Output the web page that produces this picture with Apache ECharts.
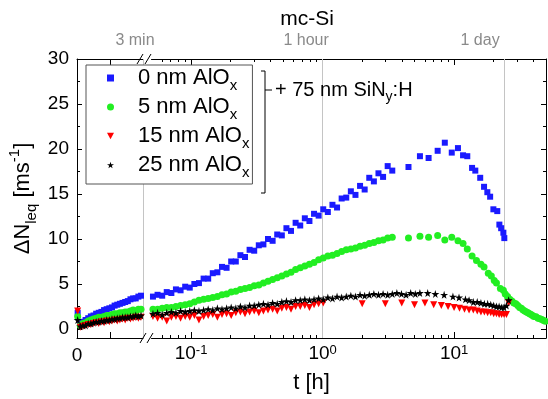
<!DOCTYPE html>
<html><head><meta charset="utf-8">
<script src="https://cdn.jsdelivr.net/npm/echarts@6/dist/echarts.min.js"></script>
<style>html,body{margin:0;padding:0;background:#fff}#c{width:548px;height:399px}</style>
</head><body><div id="c"></div>
<script>
// ---- data (t in hours, ΔN_leq in ms^-1) ----
const tLin = [0.0005,0.0025,0.0045,0.0065,0.0085,0.0105,0.0125,0.0145,0.0165,0.0185,0.0205,0.0225,0.0245,0.0265,0.0285,0.0305,0.0325,0.0345,0.0365,0.0385,0.0405,0.0425,0.0445,0.0465,0.0485];
const tLog = [0.0513,0.0556,0.0603,0.0653,0.0708,0.0767,0.0832,0.0902,0.0977,0.1059,0.1148,0.1245,0.1349,0.1462,0.1585,0.1718,0.1862,0.2018,0.2188,0.2371,0.2570,0.2786,0.3020,0.3273,0.3548,0.3846,0.4169,0.4519,0.4898,0.5309,0.5754,0.6237,0.6761,0.7328,0.7943,0.8610,0.9333,1.0116,1.0965,1.1885,1.2882,1.3964,1.5136,1.6406,1.7783,1.9275,2.0893,2.2646,2.4547,2.6607,2.8840,3.1261,3.3884,3.6728,3.9811,4.3152,4.6774,5.0699,5.4954];

const blueLin = [1.8,0.6,0.8,1.0,1.2,1.4,1.5,1.7,1.8,1.9,2.1,2.2,2.3,2.4,2.6,2.7,2.8,2.9,3.0,3.1,3.3,3.4,3.4,3.6,3.7];
const blueLog = [3.6,3.8,3.7,4.1,4.0,4.4,4.3,4.7,4.6,5.0,5.1,5.6,5.6,6.2,6.3,6.9,6.8,7.5,7.5,8.2,8.0,8.8,8.7,9.3,9.4,10.0,9.8,10.5,10.4,11.2,10.9,11.8,11.5,12.3,12.0,12.8,12.6,13.3,13.0,13.8,13.5,14.5,14.6,15.3,14.9,15.9,15.5,16.8,16.4,17.3,16.9,18.1,17.6];
const blueLateT = [4.5,5.5,6.4,7.5,8.5,9.6,10.7,11.7,12.6,13.7,14.5,15.8,16.9,17.9,18.8,19.9,21.3,22.1,22.8,23.7,24.1];
const blueLateV = [18.0,19.2,19.0,19.8,20.7,19.6,20.1,19.3,19.2,17.9,17.6,16.8,15.8,15.2,14.7,13.3,13.1,11.6,11.2,10.7,10.1];

const greenLin = [1.4,0.4,0.6,0.7,0.9,1.0,1.1,1.2,1.3,1.3,1.4,1.5,1.5,1.6,1.7,1.7,1.8,1.8,1.9,1.9,2.0,2.1,2.0,2.2,2.2];
const greenLog = [2.2,2.2,2.3,2.4,2.4,2.5,2.6,2.7,2.8,3.0,3.2,3.3,3.4,3.5,3.6,3.8,3.9,4.1,4.2,4.4,4.5,4.6,4.8,4.9,5.1,5.3,5.5,5.7,5.9,6.1,6.3,6.6,6.8,7.0,7.2,7.4,7.7,7.9,8.1,8.2,8.4,8.6,8.8,8.9,9.0,9.2,9.3,9.5,9.6,9.8,9.9,10.1,10.2];
const greenLateT = [4.5,5.5,6.4,7.5,8.5,9.6,10.7,11.7,12.6,13.7,14.8,16.0,16.9,18.2,19.2,20.2,21.0,22.5,23.7,24.5,25.5,26.5,27.5,28.5,29.5,30.5,31.5,32.5,33.5,34.5,35.5,36.5,37.5,38.5,39.5,40.5,42.0,43.5,45.0,46.5,48.0,49.5];
const greenLateV = [10.1,10.3,10.2,10.4,9.9,10.2,9.8,9.5,8.9,8.1,7.6,7.2,6.9,6.2,5.9,5.4,5.1,4.5,4.3,3.9,3.6,3.3,3.1,2.9,2.8,2.6,2.4,2.3,2.1,2.0,1.9,1.8,1.7,1.6,1.5,1.4,1.35,1.2,1.15,1.05,0.95,0.85];

const redLin = [2.0,0.2,0.3,0.4,0.5,0.5,0.6,0.7,0.6,0.8,0.7,0.9,0.8,0.9,1.0,0.9,1.0,1.1,1.0,1.2,1.1,1.2,1.3,1.2,1.3];
const redLog = [1.4,1.2,1.3,0.9,1.3,1.4,1.2,1.4,1.3,1.5,1.0,1.4,1.5,1.6,1.3,1.6,1.7,1.5,1.8,1.9,1.7,1.9,2.0,1.8,2.0,2.1,2.2,2.0,2.3,2.4,2.2,2.5,2.5,2.6,2.4,2.7,2.8,2.9];
const redLateT = [2,3,4,5,6,7,8,9,10,11,12,13,14,15,16,17,18,19,20,21,22,23,24,25,26];
const redLateV = [2.8,2.8,2.9,2.7,2.9,2.7,2.6,2.5,2.4,2.3,2.2,2.1,2.1,2.0,1.9,1.9,1.8,1.8,1.7,1.7,1.6,1.6,1.6,1.6,2.9];

const blackLin = [1.0,0.3,0.4,0.4,0.6,0.6,0.7,0.8,0.8,0.9,0.9,1.0,1.0,1.1,1.1,1.2,1.2,1.3,1.3,1.3,1.4,1.4,1.5,1.4,1.5];
const blackLog = [1.7,1.8,1.6,1.8,1.9,1.8,2.0,1.9,2.0,2.1,2.0,2.1,2.2,2.1,2.3,2.2,2.3,2.4,2.3,2.5,2.4,2.6,2.6,2.7,2.8,2.7,2.9,2.8,3.0,3.1,3.0,3.2,3.2,3.3,3.2,3.3,3.4,3.3,3.5,3.4,3.6,3.5,3.6,3.7,3.6,3.8,3.7,3.8,3.9,3.8,3.9,3.8,3.9,4.0,3.9,3.8,4.0,3.9,4.0];
const blackLateT = [6.3,7.2,8.4,9.8,10.9,12.2,13,14,15,16,17,18,19,20,21,22,23,24,25,26];
const blackLateV = [4.0,3.9,3.8,3.6,3.5,3.3,3.2,3.0,3.0,2.9,2.8,2.8,2.7,2.6,2.5,2.5,2.4,2.4,2.6,3.2];

const seriesNames = ['0 nm AlOx','5 nm AlOx','15 nm AlOx','25 nm AlOx'];
const yTicks = [0,5,10,15,20,25,30];
const yMinor = [2.5,7.5,12.5,17.5,22.5,27.5];
const xLogMajor = [0.1,1,10];
const xLogMinor = [0.06,0.07,0.08,0.09,0.2,0.3,0.4,0.5,0.6,0.7,0.8,0.9,2,3,4,5,6,7,8,9,20,30,40];
const topMarks = [1,24];            // 1 hour, 1 day
const topMarkText = {1:'1 hour', 24:'1 day'};
const breakT = 0.05;                // 3 min

// ---- rendering ----
const F = '"Liberation Sans", Arial, sans-serif';
const STAR = 'path://M50,0 L61,35 L98,35 L68,57 L79,91 L50,70 L21,91 L32,57 L2,35 L39,35 Z';
const TRI_DOWN = 'path://M0,0 L100,0 L50,90 Z';
const looks = [
  {color:'#1a1aff', symbol:'rect', size:6},
  {color:'#22ee22', symbol:'circle', size:7},
  {color:'#ff0000', symbol:TRI_DOWN, size:7},
  {color:'#000000', symbol:STAR, size:8}
];
function pairs(t, v){ return v.map((y,i)=>[t[i], y]); }
const linData = [pairs(tLin, blueLin), pairs(tLin, greenLin), pairs(tLin, redLin), pairs(tLin, blackLin)];
const logData = [
  pairs(tLog, blueLog).concat(pairs(blueLateT, blueLateV)),
  pairs(tLog, greenLog).concat(pairs(greenLateT, greenLateV)),
  pairs(tLog, redLog).concat(pairs(redLateT, redLateV)),
  pairs(tLog, blackLog).concat(pairs(blackLateT, blackLateV))
];
const grey = '#c4c4c4';
const series = [];
seriesNames.forEach((n,i)=>{
  const L = looks[i];
  const base = {type:'scatter', name:n, symbol:L.symbol, symbolSize:L.size,
    itemStyle:{color:L.color, opacity:1}, silent:true, z:3+i};
  series.push(Object.assign({}, base, {xAxisIndex:0, yAxisIndex:0, data:linData[i]},
    i===0 ? {markLine:{silent:true, symbol:'none', label:{show:false}, lineStyle:{color:grey, type:'solid', width:1}, data:[{xAxis:breakT}], z:1}} : {}));
  series.push(Object.assign({}, base, {xAxisIndex:2, yAxisIndex:2, data:logData[i]},
    i===0 ? {markLine:{silent:true, symbol:'none', label:{show:false}, lineStyle:{color:grey, type:'solid', width:1}, data:topMarks.map(v=>({xAxis:v})), z:1}} : {}));
});

const blk = {color:'#000', width:1};
const lineOn = {show:true, onZero:false, lineStyle:blk};
const lineOff = {show:false, onZero:false};
function ticks(vals, len){ return {show:true, inside:true, length:len, customValues:vals, lineStyle:blk}; }
const tickLabelStyle = {fontSize:19, color:'#000', fontFamily:F};
const logFmt = v => '10{s|' + Math.round(Math.log10(v)) + '}';
const logRich = {rich:{s:{fontSize:13, verticalAlign:'top', fontFamily:F, color:'#000'}}};
const ext = {min:0.05, max:50, type:'log', logBase:10, gridIndex:1, splitLine:{show:false}};
const extA = {min:0, max:0.05, type:'value', gridIndex:0, splitLine:{show:false}};
const extY = {type:'value', min:-1, max:30, splitLine:{show:false}};

const option = {
  animation:false,
  backgroundColor:'#fff',
  title:{text:'mc-Si', left:302, top:4, textAlign:'center', textStyle:{fontSize:21, fontWeight:'normal', color:'#000', fontFamily:F}},
  grid:[
    {left:77, top:59, width:66, height:279},
    {left:151.5, top:59, width:394.5, height:279},
    {left:77, top:59, width:469, height:279}
  ],
  xAxis:[
    Object.assign({}, extA, {position:'bottom', axisLine:lineOn, axisTick:ticks([0.025],6),
      axisLabel:Object.assign({customValues:[0], formatter:v=>String(v), margin:8}, tickLabelStyle)}),
    Object.assign({}, extA, {position:'top', axisLine:lineOn, axisTick:ticks([0.025],6),
      axisLabel:{customValues:[breakT], formatter:()=>'{m|3 min}', margin:10,
        rich:{m:{fontSize:16, color:'#8a8a8a', fontFamily:F, padding:[0,16,0,0]}}}}),
    Object.assign({}, ext, {position:'bottom', axisLine:lineOn, axisTick:ticks(xLogMajor,6),
      axisLabel:Object.assign({customValues:xLogMajor, formatter:logFmt, margin:6}, tickLabelStyle, logRich)}),
    Object.assign({}, ext, {position:'bottom', axisLine:lineOff, axisTick:ticks(xLogMinor,3), axisLabel:{show:false}}),
    Object.assign({}, ext, {position:'top', axisLine:lineOn, axisTick:ticks(xLogMajor,6),
      axisLabel:{customValues:topMarks, margin:10,
        formatter:v=> v===1 ? '{h|'+topMarkText[1]+'}' : '{d|'+topMarkText[24]+'}',
        rich:{h:{fontSize:16, color:'#8a8a8a', fontFamily:F, padding:[0,33,0,0]},
              d:{fontSize:16, color:'#8a8a8a', fontFamily:F, padding:[0,48,0,0]}}}}),
    Object.assign({}, ext, {position:'top', axisLine:lineOff, axisTick:ticks(xLogMinor,3), axisLabel:{show:false}}),
    {gridIndex:2, type:'value', min:0, max:1, position:'bottom', axisLine:{show:false}, axisTick:{show:false},
      axisLabel:{show:false}, splitLine:{show:false},
      name:'t [h]', nameLocation:'middle', nameGap:36, nameTextStyle:{fontSize:22, color:'#000', fontFamily:F}}
  ],
  yAxis:[
    Object.assign({}, extY, {gridIndex:0, position:'left', axisLine:lineOn, axisTick:ticks(yTicks,5),
      axisLabel:Object.assign({customValues:yTicks, margin:8}, tickLabelStyle),
      name:'{a|ΔN}{s|leq}{a| [ms}{p|-1}{a|]}', nameLocation:'middle', nameGap:38,
      nameTextStyle:{rich:{
        a:{fontSize:22, fontFamily:F, color:'#000', lineHeight:32},
        s:{fontSize:15, fontFamily:F, color:'#000', verticalAlign:'bottom'},
        p:{fontSize:15, fontFamily:F, color:'#000', verticalAlign:'top'}}}}),
    Object.assign({}, extY, {gridIndex:0, position:'left', axisLine:lineOff, axisTick:ticks(yMinor,3), axisLabel:{show:false}}),
    Object.assign({}, extY, {gridIndex:1, position:'right', axisLine:lineOn, axisTick:ticks(yTicks,5), axisLabel:{show:false}}),
    Object.assign({}, extY, {gridIndex:1, position:'right', axisLine:lineOff, axisTick:ticks(yMinor,3), axisLabel:{show:false}}),
    {gridIndex:2, type:'value', show:false}
  ],
  legend:{
    data:seriesNames.map((n,i)=>({name:n, icon:looks[i].symbol})),
    orient:'vertical', left:86, top:65,
    padding:[2,3,4,21], itemGap:3, itemWidth:7, itemHeight:7,
    backgroundColor:'#fff', borderColor:'#555', borderWidth:1, borderRadius:0,
    selectedMode:false, z:10,
    formatter: n => '{a|' + n.replace(' AlOx',' AlO') + '}{x|x}',
    textStyle:{rich:{
      a:{fontSize:22, fontFamily:F, color:'#000', lineHeight:30, padding:[0,0,0,19]},
      x:{fontSize:15, fontFamily:F, color:'#000', verticalAlign:'bottom'}}}
  },
  series:series
};
const chart = echarts.init(document.getElementById('c'));
chart.setOption(option);

// decorations: axis-break marks, bracket and stack annotation
const xb = chart.convertToPixel({xAxisIndex:0}, breakT);
const yb = chart.convertToPixel({yAxisIndex:0}, -1);
const yt = chart.convertToPixel({yAxisIndex:0}, 30);
function slash(x, y){ return {type:'line', shape:{x1:x-3, y1:y+5, x2:x+3, y2:y-5}, style:{stroke:'#000', lineWidth:1}, z:20}; }
chart.setOption({graphic:[
  {type:'rect', shape:{x:xb+1, y:yb-1, width:7, height:2}, style:{fill:'#fff'}, z:19},
  slash(xb, yb), slash(xb+7, yb), slash(xb-3, yt), slash(xb+5, yt),
  {type:'polyline', shape:{points:[[261,71],[265,71],[265,193],[261,193]]}, style:{stroke:'#000', lineWidth:1, fill:null}, z:20},
  {type:'line', shape:{x1:265, y1:90, x2:272, y2:90}, style:{stroke:'#000', lineWidth:1}, z:20},
  {type:'text', x:275, y:90, z:20, style:{text:'{a|+ 75 nm SiN}{s|y}{a|:H}', verticalAlign:'middle',
    rich:{a:{fontSize:20, fontFamily:F, color:'#000', lineHeight:28}, s:{fontSize:14, fontFamily:F, color:'#000', verticalAlign:'bottom'}}}}
]});
</script></body></html>
